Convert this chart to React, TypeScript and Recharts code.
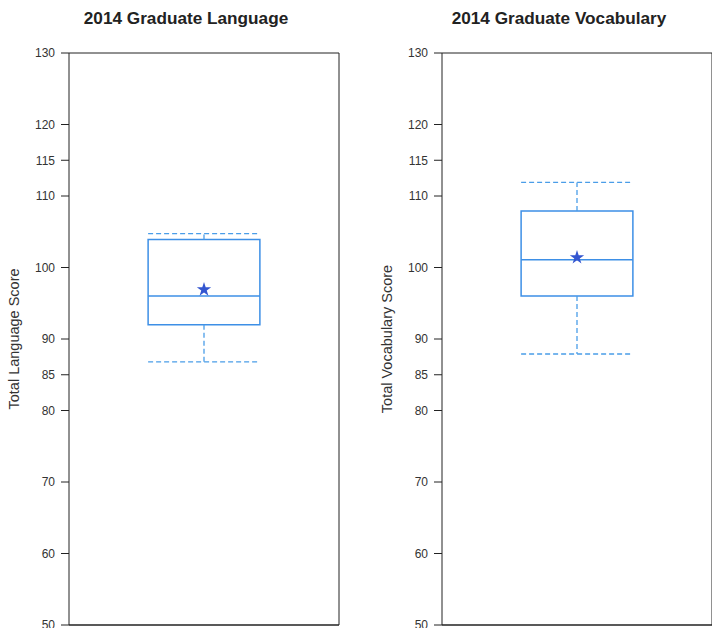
import {
  ComposedChart,
  XAxis,
  YAxis,
  Scatter,
  ReferenceArea,
  ReferenceLine,
} from "recharts";

const titles = ["2014 Graduate Language", "2014 Graduate Vocabulary"];
const yLabels = ["Total Language Score", "Total Vocabulary Score"];
const lowWhisker = [86.8, 87.9];
const q1 = [92, 96];
const median = [96, 101.1];
const q3 = [103.9, 107.9];
const highWhisker = [104.75, 111.9];
const means = [96.9, 101.4];
const yTicks = [50, 60, 70, 80, 85, 90, 100, 110, 115, 120, 130];

const BOX = "#3d8fe6";
const WHISKER = "#4a9de8";
const STAR = "#3456d0";
const AXIS = "#222";
const FONT = "'Liberation Sans', Arial, sans-serif";

const boxLeft = 0.293;
const boxRight = 0.707;
const mid = 0.5;

function Panel({ i }: { i: number }) {
  const star = [{ x: mid, y: means[i] }];
  return (
    <div style={{ position: "relative", width: 356, height: 628 }}>
      <div
        style={{
          position: "absolute",
          left: 0,
          width: 372,
          top: 8,
          textAlign: "center",
          fontFamily: FONT,
          fontWeight: "bold",
          fontSize: 17.2,
          color: "#222",
        }}
      >
        {titles[i]}
      </div>
      <ComposedChart
        width={356}
        height={628}
        margin={{ top: 53, right: 0, bottom: 3, left: 0 }}
        style={{ fontFamily: FONT }}
      >
        <XAxis
          type="number"
          dataKey="x"
          domain={[0, 1]}
          tick={false}
          tickLine={false}
          height={0}
          stroke={AXIS}
        />
        <YAxis
          yAxisId="l"
          type="number"
          domain={[50, 130]}
          ticks={yTicks}
          interval={0}
          width={69}
          tickSize={8}
          tickMargin={6}
          stroke={AXIS}
          tick={{ fill: "#333", fontSize: 12 }}
          label={{
            content: ({ viewBox }: any) => {
              const cy = viewBox.y + viewBox.height / 2;
              return (
                <text
                  x={19}
                  y={cy}
                  transform={`rotate(-90 19 ${cy})`}
                  textAnchor="middle"
                  fontSize={14.5}
                  fill="#333"
                  fontFamily={FONT}
                >
                  {yLabels[i]}
                </text>
              );
            },
          }}
        />
        <YAxis
          yAxisId="r"
          orientation="right"
          type="number"
          domain={[50, 130]}
          ticks={yTicks}
          interval={0}
          width={17}
          tickSize={7}
          stroke={AXIS}
          tickFormatter={() => ""}
        />
        <ReferenceLine yAxisId="l" y={130} stroke={AXIS} />
        <ReferenceLine yAxisId="l" y={50} stroke={AXIS} strokeWidth={1.5} />
        <ReferenceArea
          yAxisId="l"
          x1={boxLeft}
          x2={boxRight}
          y1={q1[i]}
          y2={q3[i]}
          fill="none"
          fillOpacity={0}
          stroke={BOX}
          strokeWidth={1.5}
        />
        <ReferenceLine
          yAxisId="l"
          segment={[
            { x: boxLeft, y: median[i] },
            { x: boxRight, y: median[i] },
          ]}
          stroke={BOX}
          strokeWidth={1.5}
        />
        <ReferenceLine
          yAxisId="l"
          segment={[
            { x: mid, y: q3[i] },
            { x: mid, y: highWhisker[i] },
          ]}
          stroke={WHISKER}
          strokeWidth={1.3}
          strokeDasharray="5 3"
        />
        <ReferenceLine
          yAxisId="l"
          segment={[
            { x: mid, y: q1[i] },
            { x: mid, y: lowWhisker[i] },
          ]}
          stroke={WHISKER}
          strokeWidth={1.3}
          strokeDasharray="5 3"
        />
        <ReferenceLine
          yAxisId="l"
          segment={[
            { x: boxLeft, y: highWhisker[i] },
            { x: boxRight - 0.01, y: highWhisker[i] },
          ]}
          stroke={WHISKER}
          strokeWidth={1.3}
          strokeDasharray="5 3"
        />
        <ReferenceLine
          yAxisId="l"
          segment={[
            { x: boxLeft, y: lowWhisker[i] },
            { x: boxRight - 0.01, y: lowWhisker[i] },
          ]}
          stroke={WHISKER}
          strokeWidth={1.3}
          strokeDasharray="5 3"
        />
        <Scatter
          yAxisId="l"
          data={star}
          dataKey="y"
          shape="star"
          size={40}
          fill={STAR}
          legendType="none"
          isAnimationActive={false}
        />
      </ComposedChart>
    </div>
  );
}

export default function App() {
  return (
    <div
      style={{
        position: "absolute",
        left: 0,
        top: 0,
        width: 712,
        height: 628,
        overflow: "hidden",
        background: "#fff",
      }}
    >
      <div style={{ position: "absolute", left: 0, top: 0 }}>
        <Panel i={0} />
      </div>
      <div style={{ position: "absolute", left: 373, top: 0 }}>
        <Panel i={1} />
      </div>
    </div>
  );
}
